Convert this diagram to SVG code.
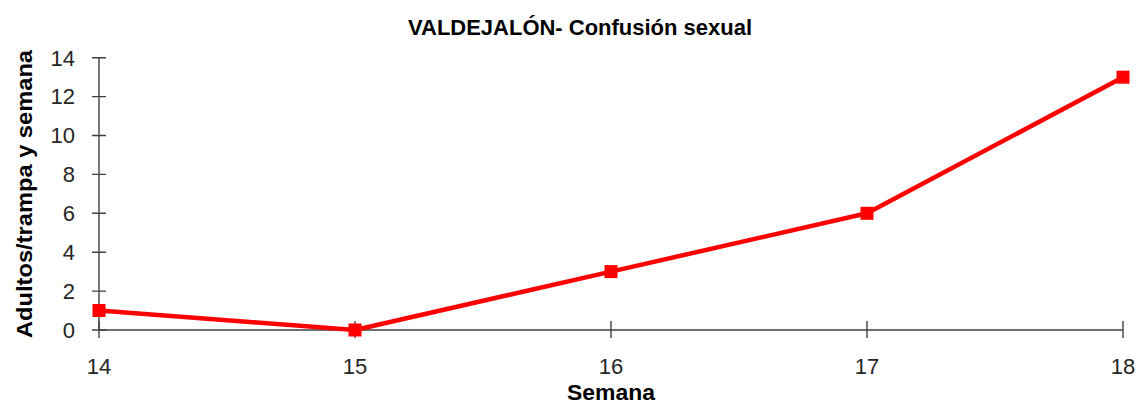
<svg xmlns="http://www.w3.org/2000/svg" width="1142" height="403" viewBox="0 0 1142 403">
<style>
.t{font-family:"Liberation Sans",Arial,sans-serif;fill:#000}
.tick{fill:#262626}
.bold{font-weight:bold}
.ax{stroke:#404040;stroke-width:1.4;fill:none}
.ser{stroke:#ff0000;stroke-width:4.5;fill:none;stroke-linejoin:round}
.mk{fill:#ff0000}
</style>
<rect width="1142" height="403" fill="#fff"/>
<text class="t bold" x="580" y="35" font-size="22" text-anchor="middle" textLength="344" lengthAdjust="spacingAndGlyphs">VALDEJALÓN- Confusión sexual</text>
<g id="axes">
<path class="ax" d="M99,57.7V330M99,330H1123"/>
<path class="ax" d="M92,330H106M92,291.1H106M92,252.2H106M92,213.3H106M92,174.4H106M92,135.5H106M92,96.6H106M92,57.7H106"/>
<path class="ax" d="M99,321V338M355,321V338M611,321V338M867,321V338M1123,321V338"/>
</g>
<g id="ylabels" class="t tick" text-anchor="end" font-size="22">
<text x="75" y="338" font-size="22">0</text>
<text x="75" y="299" font-size="22">2</text>
<text x="75" y="260" font-size="22">4</text>
<text x="75" y="221" font-size="22">6</text>
<text x="75" y="182" font-size="22">8</text>
<text x="75" y="143" font-size="22">10</text>
<text x="75" y="104" font-size="22">12</text>
<text x="75" y="65.5" font-size="22">14</text>
</g>
<g id="xlabels" class="t tick" text-anchor="middle" font-size="22">
<text x="99" y="374" font-size="22">14</text>
<text x="355" y="374" font-size="22">15</text>
<text x="611" y="374" font-size="22">16</text>
<text x="867" y="374" font-size="22">17</text>
<text x="1123" y="374" font-size="22">18</text>
</g>
<text class="t bold" x="611" y="400" font-size="22" text-anchor="middle" textLength="88" lengthAdjust="spacingAndGlyphs">Semana</text>
<text class="t bold" transform="translate(32,194) rotate(-90)" font-size="22" text-anchor="middle" textLength="288" lengthAdjust="spacingAndGlyphs">Adultos/trampa y semana</text>
<g id="connectors">
<polyline class="ser" points="99,310.5 355,330 611,271.6 867,213.3 1123,77.2"/>
</g>
<g id="markers" class="mk">
<rect id="p14" x="92.5" y="304" width="13" height="13"/>
<rect id="p15" x="348.5" y="323.5" width="13" height="13"/>
<rect id="p16" x="604.5" y="265.1" width="13" height="13"/>
<rect id="p17" x="860.5" y="206.8" width="13" height="13"/>
<rect id="p18" x="1116.5" y="70.7" width="13" height="13"/>
</g>
</svg>
